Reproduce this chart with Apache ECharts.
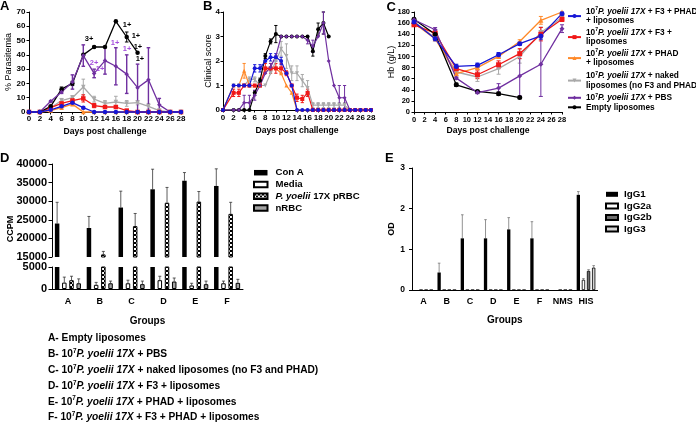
<!DOCTYPE html>
<html><head><meta charset="utf-8">
<script src="https://cdn.jsdelivr.net/npm/echarts@6/dist/echarts.min.js"></script>
<style>html,body{margin:0;padding:0;background:#fff}#c{width:696px;height:424px}</style>
</head><body><div id="c"></div>
<script>
const FONT = '"Liberation Sans", Arial, Helvetica, sans-serif';

// ---------- Panel A : % Parasitemia ----------
const daysA = [0,2,4,6,8,10,12,14,16,18,20,22,24,26,28];
const blueA   = [0,0,1.5,4,6.5,3,0,0,0,0,0,0,0,0,0];
const blueErrA= [0,0,0.5,1,1,0.8,0,0,0,0,0,0,0,0,0];
const redA    = [0,0,3,6,8,9.5,4.5,3.5,3.5,1,0,0,0,0,0];
const redErrA = [0,0,0.5,1,1.5,2.5,1.5,1,1,0.5,0,0,0,0,0];
const orangeA = [0,0,1,3,5.5,0,0,0,0,0,0,0,0,0,0];
const orangeErrA=[0,0,0.5,0.8,1,0,0,0,0,0,0,0,0,0,0];
const grayA   = [0,0,3,8,10,17.5,9,6,7,6,6.5,4,1,0,0];
const grayErrA= [0,0,0.5,1.5,1.5,5.5,2,2,4,2,1.5,2,0.5,0,0];
const purpleA = [0,0,7.5,14,21,39.5,27,36,32,26.5,17,22.5,5,0,0];
const purpleErrA=[0,0,0.5,1,5,7.5,3,9.5,13,13.5,16.5,22.5,4.5,0,0];
const blackA  = [0,0,4,16,20,40,45.5,45.5,63.5,52.5,41.5,null,null,null,null];
const blackErrA=[0,0,0.5,1.5,1.5,0,0.5,0,0,3.5,0,0,0,0,0];
const annBlackA  = [[11.05,51.1,'3+'],[18.05,60.9,'1+'],[19.7,53.4,'1+'],[20.07,45.5,'1+'],[20.44,37.3,'1+']];
const annPurpleA = [[15.84,48.3,'1+'],[18.05,44,'1+'],[11.97,34.3,'2+'],[13.08,30.1,'1+']];

// ---------- Panel B : Clinical score ----------
const daysB = [0,2,3,4,5,6,7,8,9,10,11,12,13,14,15,16,17,18,19,20,21,22,23,24,25,26,27,28];
const blueB    = [0,1,1,1,1,1.7,1.7,2,2.15,2.15,2,1.5,1,0,0,0,0,0,0,0,0,0,0,0,0,0,0,0];
const blueErrB = [0,0,0,0,0,0.15,0.15,0,0.15,0.15,0.15,0,0,0,0,0,0,0,0,0,0,0,0,0,0,0,0,0];
const redB     = [0,0.7,0.7,1,1,1,1,1.7,1.7,1.7,1.7,1.5,1,0.5,0.45,0.7,0,0,0,0,0,0,0,0,0,0,0,0];
const redErrB  = [0,0.15,0.15,0,0,0,0,0.2,0.2,0.2,0.2,0.1,0,0.15,0.15,0.15,0,0,0,0,0,0,0,0,0,0,0,0];
const orangeB  = [0,1,1,1.6,1,1,1,1.7,1.7,1.7,1.5,1,0.7,0,0,0,0,0,0,0,0,0,0,0,0,0,0,0];
const orangeErrB=[0,0,0,0.3,0,0,0,0,0,0,0,0,0,0,0,0,0,0,0,0,0,0,0,0,0,0,0,0];
const grayB    = [0,1,1,1,1.25,1.25,1,1,1.5,2,2.5,2.2,1.5,1.5,1.2,0.9,0.2,0.2,0.2,0.2,0.2,0.2,0.2,0,0,0,0,0];
const grayErrB = [0,0,0,0,0.1,0.1,0,0,0,0,0.3,0.5,0.3,0.3,0.25,0.3,0.1,0.1,0.1,0.1,0.1,0.1,0.1,0,0,0,0,0];
const purpleB  = [0,0,0,0.3,0.3,0.6,1,1.5,1.75,2.2,3,3,3,3,3,2.85,2.6,3,3.55,2,1,0.5,0.5,0,0,0,0,0];
const purpleErrB=[0,0,0,0.3,0.3,0.2,0,0,0.15,0,0,0,0,0,0,0.15,0.25,0,0.45,0,0,0.5,0.5,0,0,0,0,0];
const blackB   = [0,0,0,0,0,0.7,1.2,2.2,2.8,3.1,3,3,3,3,3,3,2.4,3.3,3.55,3,null,null,null,null,null,null,null,null];
const blackErrB= [0,0,0,0,0,0.1,0.1,0.1,0.1,0.35,0,0,0,0,0,0,0.2,0.25,0.45,0,0,0,0,0,0,0,0,0];

// ---------- Panel C : Hb ----------
const daysC = [0,4,8,12,16,20,24,28];
const blueC   = [162,132,82,84,103,123,137,177];
const blueErrC= [3,4,4,4,4,3,6,3];
const redC    = [157,142,78,67,85,105,140,167];
const redErrC = [3,4,4,7,7,9,12,4];
const orangeC = [160,132,69,80,100,127,165,180];
const orangeErrC=[2,3,3,3,3,3,7,2];
const grayC   = [163,133,72,63,78,100,143,170];
const grayErrC= [2,3,4,8,10,12,10,4];
const purpleC = [166,148,61,35,43,65,86,150];
const purpleErrC=[2,4,2,2,8,36,58,7];
const blackC  = [167,140,49,37,33,26,null,null];
const blackErrC=[2,3,3,2,3,2,0,0];

// ---------- Panel D : CCPM ----------
const groupsD = ['A','B','C','D','E','F'];
const conA     = [24000,22800,28300,33200,35500,34100];
const conAErr  = [5700,3100,4400,5400,2200,4600];
const media    = [1450,950,1300,2000,800,1300];
const mediaErr = [1250,550,700,900,500,500];
const prbc     = [2000,15700,23300,29600,29900,26600];
const prbcErr  = [900,800,3400,4100,2700,3100];
const nrbc     = [1300,1300,1100,1700,1100,1400];
const nrbcErr  = [1000,500,700,800,700,800];

// ---------- Panel E : OD ----------
const groupsE = ['A','B','C','D','E','F','NMS','HIS'];
const igg1    = [0,0.43,1.27,1.27,1.49,1.27,0,2.34];
const igg1Err = [0,0.23,0.58,0.46,0.29,0.41,0,0.08];
const igg2a   = [0,0,0,0,0,0,0,0.25];
const igg2aErr= [0,0,0,0,0,0,0,0.03];
const igg2b   = [0,0,0,0,0,0,0,0.47];
const igg2bErr= [0,0,0,0,0,0,0,0.03];
const igg3    = [0,0,0,0,0,0,0,0.55];
const igg3Err = [0,0,0,0,0,0,0,0.05];

// ---------- styling ----------
const COL = {blue:'#1616d6', red:'#f01818', orange:'#ff8a2a', gray:'#a9a9a9', purple:'#7030a0', black:'#000000'};
const NAMES = {blue:'F3 + PHAD + liposomes', red:'F3 + liposomes', orange:'PHAD + liposomes',
  gray:'naked liposomes (no F3 and PHAD)', purple:'PBS', black:'Empty liposomes'};
const SYM = {blue:'circle', red:'rect', orange:'triangle', gray:'triangle', purple:'diamond', black:'circle'};
const LEG_C = {
  blue:'10{sup|7}{i|P. yoelii 17X} + F3 + PHAD\n+ liposomes',
  red:'10{sup|7}{i|P. yoelii 17X} + F3 +\nliposomes',
  orange:'10{sup|7}{i|P. yoelii 17X} + PHAD\n+ liposomes',
  gray:'10{sup|7}{i|P. yoelii 17X} + naked\nliposomes (no F3 and PHAD)',
  purple:'10{sup|7}{i|P. yoelii 17X} + PBS',
  black:'Empty liposomes'
};
const LEG_C_TOP = {blue:6.5, red:27.5, orange:48.5, gray:71, purple:93, black:102.5};
const BOTTOM_LINES = [
  'A- Empty liposomes',
  'B- 10{sup|7}{i|P. yoelii 17X} + PBS',
  'C- 10{sup|7}{i|P. yoelii 17X} + naked liposomes (no F3 and PHAD)',
  'D- 10{sup|7}{i|P. yoelii 17X} + F3 + liposomes',
  'E- 10{sup|7}{i|P. yoelii 17X} + PHAD + liposomes',
  'F- 10{sup|7}{i|P. yoelii 17X} + F3 + PHAD + liposomes'
];

function rich(fs, lh) {
  return {
    sup:{fontSize:fs*0.62, fontWeight:'bold', fontFamily:FONT, color:'#000', verticalAlign:'top', lineHeight:fs*0.62},
    i:{fontSize:fs, fontWeight:'bold', fontStyle:'italic', fontFamily:FONT, color:'#000', lineHeight:lh}
  };
}

function errRender(color, capW, upOnly, offsetPx, lw) {
  return function(params, api) {
    const v = api.value(1), e = api.value(2);
    if (!isFinite(v) || !isFinite(e) || e <= 0) return null;
    const x = api.value(0);
    const p0 = api.coord([x, upOnly ? v : v - e]);
    const p1 = api.coord([x, v + e]);
    const cs = params.coordSys;
    if (p1[1] < cs.y - 0.5 || p0[1] > cs.y + cs.height + 0.5) return null;
    const px = p0[0] + offsetPx;
    const st = {stroke:color, lineWidth:lw};
    const ch = [
      {type:'line', shape:{x1:px, y1:p0[1], x2:px, y2:p1[1]}, style:st},
      {type:'line', shape:{x1:px-capW, y1:p1[1], x2:px+capW, y2:p1[1]}, style:st}
    ];
    if (!upOnly) ch.push({type:'line', shape:{x1:px-capW, y1:p0[1], x2:px+capW, y2:p0[1]}, style:st});
    return {type:'group', children:ch};
  };
}

function errSeries(gi, xs, vals, errs, color, capW, upOnly, off, lw) {
  return {type:'custom', xAxisIndex:gi, yAxisIndex:gi, silent:true,
    data: xs.map((d,i)=>[d, vals[i], errs[i]]), encode:{x:0, y:1},
    renderItem: errRender(color, capW, upOnly, off || 0, lw || 1)};
}

function lineSeries(key, gi, xs, vals, size, lw) {
  return {type:'line', name:NAMES[key], xAxisIndex:gi, yAxisIndex:gi,
    data: xs.map((d,i)=>[d, vals[i]]), symbol:SYM[key], symbolSize:size,
    symbolRotate: key==='gray' ? 180 : 0, clip:false, connectNulls:false,
    lineStyle:{color:COL[key], width:lw}, itemStyle:{color:COL[key]}, emphasis:{disabled:true}};
}

const series = [];
const order = ['gray','orange','red','black','purple','blue'];
const dataA = {blue:[blueA,blueErrA], red:[redA,redErrA], orange:[orangeA,orangeErrA], gray:[grayA,grayErrA], purple:[purpleA,purpleErrA], black:[blackA,blackErrA]};
const dataB = {blue:[blueB,blueErrB], red:[redB,redErrB], orange:[orangeB,orangeErrB], gray:[grayB,grayErrB], purple:[purpleB,purpleErrB], black:[blackB,blackErrB]};
const dataC = {blue:[blueC,blueErrC], red:[redC,redErrC], orange:[orangeC,orangeErrC], gray:[grayC,grayErrC], purple:[purpleC,purpleErrC], black:[blackC,blackErrC]};

function annMark(list, color) {
  return {symbol:'circle', symbolSize:0, silent:true,
    label:{show:true, position:'inside', formatter:'{c}', color:color, fontSize:7.5, fontWeight:'bold', fontFamily:FONT},
    data:list.map(a=>({coord:[a[0],a[1]], value:a[2]}))};
}

order.forEach(k => {
  series.push(errSeries(0, daysA, dataA[k][0], dataA[k][1], COL[k], 1.8, false, 0, k==='purple'?1.4:1));
  const s = lineSeries(k, 0, daysA, dataA[k][0], 4.5, 1.3);
  if (k==='black') s.markPoint = annMark(annBlackA, '#000');
  if (k==='purple') s.markPoint = annMark(annPurpleA, '#a54fdc');
  series.push(s);
});
order.forEach(k => {
  series.push(errSeries(1, daysB, dataB[k][0], dataB[k][1], COL[k], 1.6, false, 0, 1));
  series.push(lineSeries(k, 1, daysB, dataB[k][0], 4, 1.2));
});
order.forEach(k => {
  series.push(errSeries(2, daysC, dataC[k][0], dataC[k][1], COL[k], 2, false, 0, 1));
  series.push(lineSeries(k, 2, daysC, dataC[k][0], 5, 1.3));
});

// pattern for pRBC bars
const pc = document.createElement('canvas'); pc.width = 4; pc.height = 4;
const g2 = pc.getContext('2d'); g2.fillStyle = '#fff'; g2.fillRect(0,0,4,4);
g2.fillStyle = '#000'; g2.fillRect(0,0,2,2); g2.fillRect(2,2,2,2);
const checker = {image: pc, repeat: 'repeat'};

const dDefs = [
  {name:'Con A', vals:conA, errs:conAErr, style:{color:'#000'}},
  {name:'Media', vals:media, errs:mediaErr, style:{color:'#fff', borderColor:'#000', borderWidth:1}},
  {name:'P. yoelii 17X pRBC', vals:prbc, errs:prbcErr, style:{color:checker, borderColor:'#000', borderWidth:1}},
  {name:'nRBC', vals:nrbc, errs:nrbcErr, style:{color:'#a3a3a3', borderColor:'#000', borderWidth:1}}
];
const BW_D = 4.5, GAP_D = 0.6;
[3,4].forEach(gi => {
  dDefs.forEach((d,k) => {
    series.push({type:'bar', name:d.name, xAxisIndex:gi, yAxisIndex:gi, data:d.vals,
      barWidth:BW_D, barGap:(GAP_D*100)+'%', itemStyle:d.style, clip:true, emphasis:{disabled:true}});
  });
  dDefs.forEach((d,k) => {
    series.push(errSeries(gi, groupsD.map((_,i)=>i), d.vals, d.errs, '#333', 1.5, true, (k-1.5)*BW_D*(1+GAP_D), 0.8));
  });
});

const eDefs = [
  {name:'IgG1', vals:igg1, errs:igg1Err, style:{color:'#000'}},
  {name:'IgG2a', vals:igg2a, errs:igg2aErr, style:{color:'#fff', borderColor:'#000', borderWidth:0.8}},
  {name:'IgG2b', vals:igg2b, errs:igg2bErr, style:{color:'#6e6e6e', borderColor:'#000', borderWidth:0.8}},
  {name:'IgG3', vals:igg3, errs:igg3Err, style:{color:'#d4d4d4', borderColor:'#000', borderWidth:0.8}}
];
const BW_E = 3.3, GAP_E = 0.55;
eDefs.forEach(d => {
  series.push({type:'bar', name:d.name, xAxisIndex:5, yAxisIndex:5, data:d.vals,
    barWidth:BW_E, barGap:(GAP_E*100)+'%', itemStyle:d.style, emphasis:{disabled:true}});
});
eDefs.forEach((d,k) => {
  series.push(errSeries(5, groupsE.map((_,i)=>i), d.vals, d.errs, '#777', 1.3, true, (k-1.5)*BW_E*(1+GAP_E), 0.8));
});

// ---------- axes ----------
function ax(extra, fs, margin, tickLen) {
  return Object.assign({
    axisLine:{show:true, onZero:false, lineStyle:{color:'#000', width:1}},
    axisTick:{show:true, length:tickLen, lineStyle:{color:'#000', width:1}},
    axisLabel:{fontSize:fs, fontWeight:'bold', color:'#000', fontFamily:FONT, margin:margin, hideOverlap:false},
    splitLine:{show:false}, nameMoveOverlap:false
  }, extra);
}
const nameStyleBold = fs => ({fontSize:fs, fontWeight:'bold', color:'#000', fontFamily:FONT});
const nameStyle = fs => ({fontSize:fs, fontWeight:'normal', color:'#000', fontFamily:FONT});
const plainLabel = v => String(v);

const xAxis = [
  ax({type:'value', gridIndex:0, min:0, max:28, interval:2, name:'Days post challenge', nameLocation:'middle', nameGap:15.5, nameTextStyle:nameStyleBold(8.6)}, 8, 3, 2.5),
  ax({type:'value', gridIndex:1, min:0, max:28, interval:2, name:'Days post challenge', nameLocation:'middle', nameGap:16, nameTextStyle:nameStyleBold(8.6)}, 8, 3.5, 2.5),
  ax({type:'value', gridIndex:2, min:0, max:28, interval:2, name:'Days post challenge', nameLocation:'middle', nameGap:14.5, nameTextStyle:nameStyleBold(8.6)}, 7.5, 3.5, 2.5),
  {type:'category', gridIndex:3, data:groupsD, show:false},
  ax({type:'category', gridIndex:4, data:groupsD, name:'Groups', nameLocation:'middle', nameGap:27.5, nameTextStyle:nameStyleBold(10)}, 9, 8, 0),
  ax({type:'category', gridIndex:5, data:groupsE, name:'Groups', nameLocation:'middle', nameGap:25.5, nameTextStyle:nameStyleBold(10)}, 9, 7.5, 0)
];
xAxis[4].axisTick.show = false; xAxis[5].axisTick.show = false;
xAxis[4].axisLabel.interval = 0; xAxis[5].axisLabel.interval = 0;

const yAxis = [
  ax({type:'value', gridIndex:0, min:0, max:70, interval:10, name:'% Parasitemia', nameLocation:'middle', nameGap:15.5, nameTextStyle:nameStyle(9)}, 8, 3.5, 2.5),
  ax({type:'value', gridIndex:1, min:0, max:4, interval:1, name:'Clinical score', nameLocation:'middle', nameGap:10, nameTextStyle:nameStyle(9)}, 8, 3, 2.5),
  ax({type:'value', gridIndex:2, min:0, max:180, interval:20, name:'Hb (g/L)', nameLocation:'middle', nameGap:17.5, nameTextStyle:nameStyle(9)}, 7.5, 4, 2.5),
  ax({type:'value', gridIndex:3, min:15000, max:40000, interval:5000}, 11, 5, 3.5),
  ax({type:'value', gridIndex:4, min:0, max:5000, interval:5000}, 11, 5, 3.5),
  ax({type:'value', gridIndex:5, min:0, max:3, interval:1, name:'OD', nameLocation:'middle', nameGap:16, nameTextStyle:nameStyleBold(9)}, 8.5, 7, 3)
];
yAxis[3].axisLabel.formatter = plainLabel;
yAxis[4].axisLabel.formatter = plainLabel;

// ---------- legends ----------
const legends = [];
['blue','red','orange','gray','purple','black'].forEach(k => {
  legends.push({data:[NAMES[k]], left:567, top:LEG_C_TOP[k], orient:'vertical', padding:0,
    itemWidth:13, itemHeight:5, selectedMode:false,
    formatter: () => LEG_C[k],
    textStyle:{fontSize:8.3, fontWeight:'bold', color:'#000', fontFamily:FONT, lineHeight:9.6, rich:rich(8.3, 9.6)}});
});
legends.push({data:dDefs.map(d=>d.name), left:253, top:166.8, orient:'vertical', padding:0,
  itemWidth:13.5, itemHeight:5.5, itemGap:0, icon:'rect', selectedMode:false,
  formatter: n => n==='P. yoelii 17X pRBC' ? '{i|P. yoelii} 17X pRBC' : n,
  textStyle:{fontSize:9.6, fontWeight:'bold', color:'#000', fontFamily:FONT, lineHeight:11.8, padding:[0,0,0,3], rich:rich(9.6, 11.8)}});
legends.push({data:eDefs.map(d=>d.name), left:605, top:188.5, orient:'vertical', padding:0,
  itemWidth:12, itemHeight:5, itemGap:0, icon:'rect', selectedMode:false,
  textStyle:{fontSize:9.8, fontWeight:'bold', color:'#000', fontFamily:FONT, lineHeight:11.6, padding:[0,0,0,1]}});

// ---------- graphic texts ----------
function txt(x, y, text, font, extra) {
  return Object.assign({type:'text', x:x, y:y, silent:true,
    style:Object.assign({text:text, font:font, fill:'#000', align:'left', verticalAlign:'middle',
      textAlign:'left', textVerticalAlign:'middle'}, extra || {})});
}
const LETTER = 'bold 13px ' + FONT;
const graphic = [
  txt(0, 6.5, 'A', LETTER), txt(203, 6.5, 'B', LETTER), txt(386.5, 7.5, 'C', LETTER),
  txt(0, 158, 'D', LETTER), txt(385, 158, 'E', LETTER),
  Object.assign(txt(11, 229, 'CCPM', 'bold 9px ' + FONT, {align:'center', textAlign:'center'}), {rotation:Math.PI/2})
];
BOTTOM_LINES.forEach((t, i) => {
  graphic.push(txt(48, 338.5 + i*15.8, t, 'bold 10.2px ' + FONT, {rich:rich(10.2, 12)}));
});

const chart = echarts.init(document.getElementById('c'), null, {renderer:'canvas', width:696, height:424});
const grids = [
  {left:29, top:12, width:152, height:100},
  {left:223, top:12, width:148, height:98},
  {left:414, top:12, width:148, height:100},
  {left:52, top:164, width:191, height:93},
  {left:52, top:267, width:191, height:22},
  {left:412, top:168, width:185.6, height:122}
].map(g => Object.assign(g, {containLabel:false, outerBoundsMode:'none', show:false}));

chart.setOption({
  animation:false,
  backgroundColor:'#fff',
  textStyle:{fontFamily:FONT},
  grid:grids,
  xAxis:xAxis,
  yAxis:yAxis,
  legend:legends,
  graphic:graphic,
  series:series
});
</script>
</body></html>
